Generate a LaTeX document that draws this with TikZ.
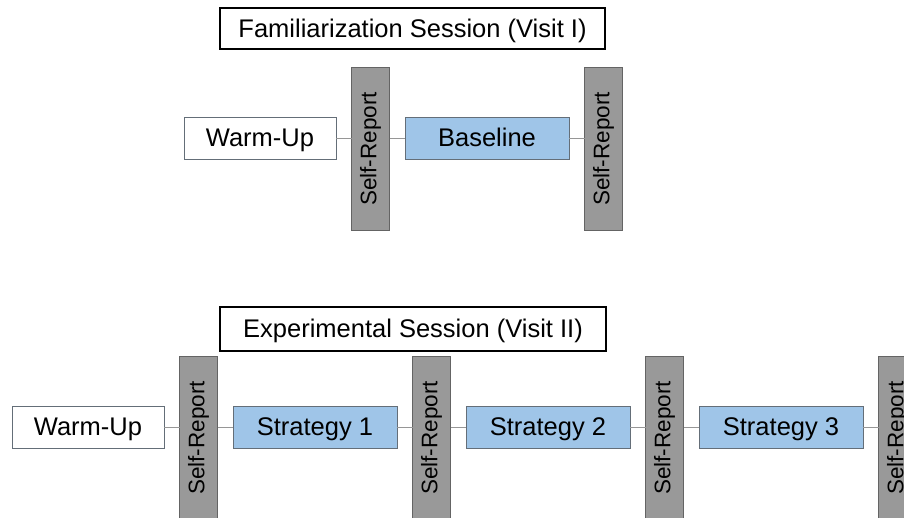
\documentclass[tikz,border=0pt]{standalone}
\usepackage{fontspec}
\setmainfont{Liberation Sans}
\usepackage{graphicx}
\usetikzlibrary{positioning,calc}
\definecolor{sredge}{RGB}{100,100,100}
\definecolor{srfill}{RGB}{153,153,153}
\definecolor{stfill}{RGB}{159,197,232}
\definecolor{stedge}{RGB}{100,110,120}
\definecolor{lnkgray}{RGB}{150,150,150}
\tikzset{
  box/.style={
    draw=stedge, line width=0.9pt, align=center, inner sep=0pt,
    outer sep=0pt, minimum height=42pt, text height=18pt, text depth=0pt,
    font=\fontsize{25.5}{30}\selectfont
  },
  warm/.style={box, fill=white, minimum width=152pt},
  strat/.style={box, fill=stfill, minimum width=164pt},
  srep/.style={
    draw=sredge, fill=srfill, line width=0.9pt, inner sep=0pt, outer sep=0pt,
    minimum width=38pt, minimum height=163pt, font=\fontsize{22.5}{27}\selectfont
  },
  ttl/.style={
    draw=black, line width=1.5pt, inner sep=0pt, outer sep=0pt,
    text height=18pt, text depth=0pt, font=\fontsize{25.5}{30}\selectfont
  },
  lnk/.style={draw=lnkgray, line width=0.9pt}
}
\begin{document}
\begin{tikzpicture}[x=1pt, y=1pt, node distance=15.5pt]
  \path[use as bounding box, clip] (0,0) rectangle (904,518);
  \node[ttl, minimum width=385pt, minimum height=41pt] (fam) at (412.5,489.5) {Familiarization Session (Visit I)};
  \node[warm] (wu1) at (260,380) {Warm-Up};
  \node[srep, right=of wu1, yshift=-11pt] (sr11) {\rotatebox{90}{Self-Report}};
  \node[strat, right=of sr11, yshift=11pt] (base) {Baseline};
  \node[srep, right=of base, yshift=-11pt] (sr12) {\rotatebox{90}{Self-Report}};
  \draw[lnk] (wu1.east) -- (wu1.east -| sr11.west);
  \draw[lnk] (base.west -| sr11.east) -- (base.west);
  \draw[lnk] (base.east) -- (base.east -| sr12.west);

  \node[ttl, minimum width=386pt, minimum height=44pt] (exp) at (413,189) {Experimental Session (Visit II)};
  \node[warm] (wu2) at (88,91) {Warm-Up};
  \node[srep, right=of wu2, yshift=-11pt] (sr21) {\rotatebox{90}{Self-Report}};
  \node[strat, right=of sr21, yshift=11pt] (st1) {Strategy 1};
  \node[srep, right=of st1, yshift=-11pt] (sr22) {\rotatebox{90}{Self-Report}};
  \node[strat, right=of sr22, yshift=11pt] (st2) {Strategy 2};
  \node[srep, right=of st2, yshift=-11pt] (sr23) {\rotatebox{90}{Self-Report}};
  \node[strat, right=of sr23, yshift=11pt] (st3) {Strategy 3};
  \node[srep, right=of st3, yshift=-11pt] (sr24) {\rotatebox{90}{Self-Report}};
  \draw[lnk] (wu2.east) -- (wu2.east -| sr21.west);
  \draw[lnk] (st1.west -| sr21.east) -- (st1.west);
  \draw[lnk] (st1.east) -- (st1.east -| sr22.west);
  \draw[lnk] (st2.west -| sr22.east) -- (st2.west);
  \draw[lnk] (st2.east) -- (st2.east -| sr23.west);
  \draw[lnk] (st3.west -| sr23.east) -- (st3.west);
  \draw[lnk] (st3.east) -- (st3.east -| sr24.west);
\end{tikzpicture}
\end{document}
